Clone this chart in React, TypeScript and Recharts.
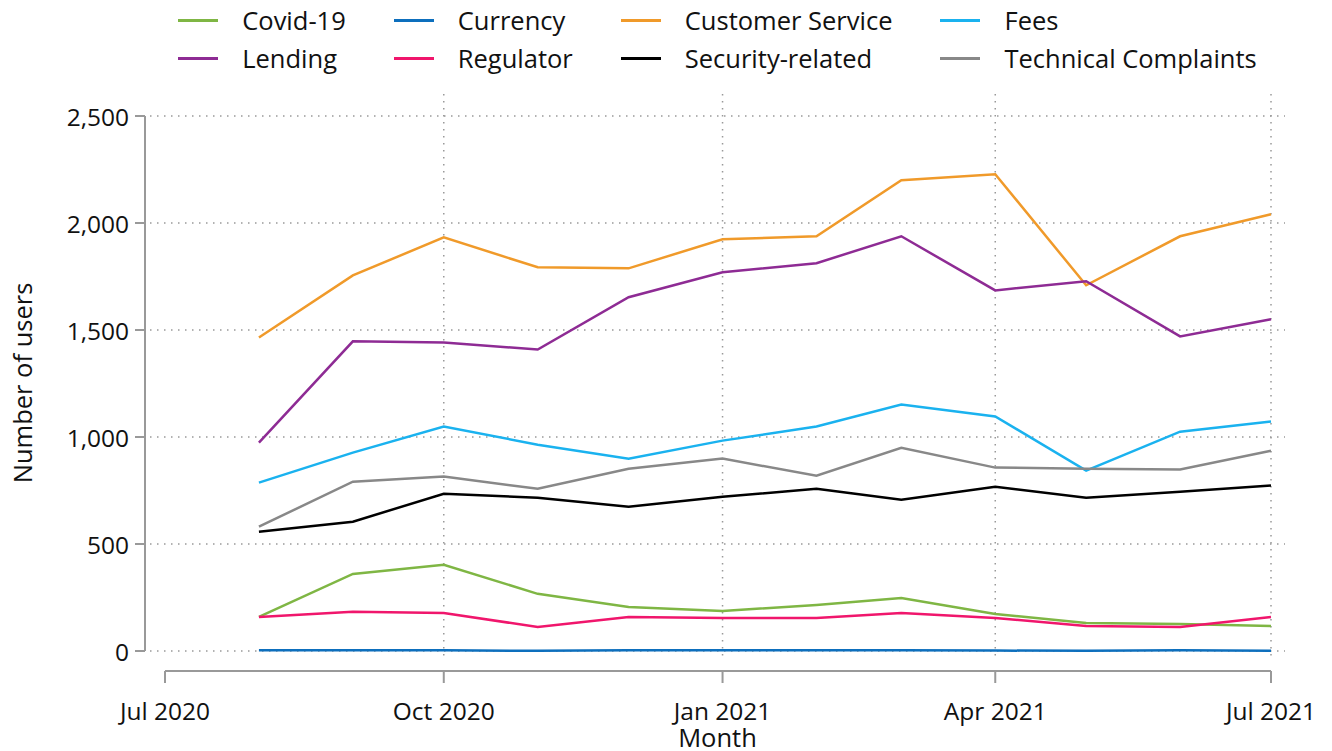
import { LineChart, Line, XAxis, YAxis, CartesianGrid, Legend } from 'recharts';

const months = ['2020-08', '2020-09', '2020-10', '2020-11', '2020-12', '2021-01', '2021-02', '2021-03', '2021-04', '2021-05', '2021-06', '2021-07'];

const covid = [159, 360, 403, 267, 206, 187, 215, 248, 173, 131, 126, 117];
const currency = [4, 4, 3, 1, 3, 3, 4, 4, 2, 1, 3, 1];
const customerService = [1465, 1755, 1933, 1793, 1788, 1924, 1938, 2200, 2228, 1709, 1938, 2041];
const fees = [787, 927, 1049, 964, 899, 983, 1049, 1152, 1096, 843, 1025, 1072];
const lending = [974, 1447, 1442, 1409, 1653, 1770, 1812, 1938, 1685, 1728, 1470, 1550];
const regulator = [159, 183, 178, 112, 159, 154, 154, 178, 154, 117, 112, 159];
const security = [557, 604, 735, 716, 674, 721, 758, 707, 768, 716, 744, 773];
const technical = [581, 791, 815, 758, 852, 899, 819, 950, 857, 852, 848, 936];

const xTickMonths = ['2020-07', '2020-10', '2021-01', '2021-04', '2021-07'];
const xTickLabels = ['Jul 2020', 'Oct 2020', 'Jan 2021', 'Apr 2021', 'Jul 2021'];
const yTicks = [0, 500, 1000, 1500, 2000, 2500];

const FONT = '"Open Sans", sans-serif';
const AXIS = '#999';

const toTs = (m: string) => Date.UTC(Number(m.slice(0, 4)), Number(m.slice(5)) - 1, 1);

const series = [
  { key: 'covid', name: 'Covid-19', color: '#7fb644', values: covid },
  { key: 'currency', name: 'Currency', color: '#0d6fbd', values: currency },
  { key: 'customer', name: 'Customer Service', color: '#f09a2a', values: customerService },
  { key: 'fees', name: 'Fees', color: '#1ab2ef', values: fees },
  { key: 'lending', name: 'Lending', color: '#8e2b94', values: lending },
  { key: 'regulator', name: 'Regulator', color: '#f0166c', values: regulator },
  { key: 'security', name: 'Security-related', color: '#000000', values: security },
  { key: 'technical', name: 'Technical Complaints', color: '#888888', values: technical },
];

const data = months.map((m, i) => {
  const row: Record<string, number> = { t: toTs(m) };
  series.forEach((s) => {
    row[s.key] = s.values[i];
  });
  return row;
});

const xTicks = xTickMonths.map(toTs);
const fmtY = (v: number) => v.toLocaleString('en-US');

// first tick positions, remembered while the ticks render so the axis line can be drawn
let firstY = 0;
let firstX = 0;

function YTick(props: any) {
  const { x, y, payload, index, visibleTicksCount } = props;
  if (index === 0) firstY = y;
  const last = index === visibleTicksCount - 1;
  return (
    <g>
      {last && <line x1={x - 5} x2={x - 5} y1={firstY} y2={y} stroke={AXIS} strokeWidth={2} />}
      <line x1={x - 15} x2={x - 5} y1={y} y2={y} stroke={AXIS} strokeWidth={2} />
      <text x={x - 21} y={y} textAnchor="end" dominantBaseline="central" fontFamily={FONT} fontSize={24.5} fill="#111">
        {fmtY(payload.value)}
      </text>
    </g>
  );
}

function XTick(props: any) {
  const { x, y, index, visibleTicksCount } = props;
  if (index === 0) firstX = x;
  const last = index === visibleTicksCount - 1;
  const ay = y + 11;
  return (
    <g>
      {last && <line x1={firstX} x2={x} y1={ay} y2={ay} stroke={AXIS} strokeWidth={2} />}
      <line x1={x} x2={x} y1={ay} y2={ay + 12} stroke={AXIS} strokeWidth={2} />
      <text x={x} y={y + 50} textAnchor="middle" dominantBaseline="central" fontFamily={FONT} fontSize={24.5} fill="#111">
        {xTickLabels[index]}
      </text>
    </g>
  );
}

function LegendGrid(props: any) {
  const items = (props.payload && props.payload.length ? props.payload : series.map((s) => ({ value: s.name, color: s.color })));
  return (
    <div style={{ width: 1332, height: 93, boxSizing: 'border-box', paddingLeft: 150, paddingRight: 47, display: 'flex', justifyContent: 'center' }}>
      <div style={{ display: 'grid', gridTemplateColumns: 'auto auto auto auto', columnGap: 48, gridAutoRows: '38px' }}>
        {items.map((it: any) => (
          <div key={it.value} style={{ display: 'flex', alignItems: 'center', fontFamily: FONT, fontSize: 25.5, color: '#111', whiteSpace: 'nowrap' }}>
            <span style={{ display: 'inline-block', width: 40, height: 3, background: it.color, marginRight: 24 }} />
            {it.value}
          </div>
        ))}
      </div>
    </div>
  );
}

export default function App() {
  return (
    <div style={{ position: 'absolute', left: 0, top: 0 }}>
      <LineChart width={1332} height={751} data={data} margin={{ top: 1, right: 47, bottom: 0, left: 0 }}>
        <CartesianGrid
          stroke={AXIS}
          strokeWidth={1.5}
          strokeDasharray="1.5 5.5"
          horizontalValues={yTicks}
          verticalValues={xTicks.slice(1)}
        />
        <XAxis
          dataKey="t"
          type="number"
          scale="time"
          domain={[xTicks[0], xTicks[xTicks.length - 1]]}
          ticks={xTicks}
          padding={{ left: 15, right: 14 }}
          height={91}
          axisLine={false}
          tickLine={false}
          tickSize={0}
          tickMargin={0}
          tick={<XTick />}
          interval={0}
          label={{
            content: (p: any) => (
              <text x={p.viewBox.x + p.viewBox.width / 2} y={p.viewBox.y + 77} textAnchor="middle" dominantBaseline="central" fontFamily={FONT} fontSize={25.5} fill="#111">
                Month
              </text>
            ),
          }}
        />
        <YAxis
          type="number"
          domain={[0, 2500]}
          ticks={yTicks}
          padding={{ top: 22, bottom: 9 }}
          width={150}
          axisLine={false}
          tickLine={false}
          tickSize={0}
          tickMargin={0}
          tick={<YTick />}
          interval={0}
          label={{
            content: (p: any) => {
              const cx = p.viewBox.x + 22;
              const cy = p.viewBox.y + p.viewBox.height / 2 + 6;
              return (
                <text x={cx} y={cy} transform={`rotate(-90 ${cx} ${cy})`} textAnchor="middle" dominantBaseline="central" fontFamily={FONT} fontSize={25.5} fill="#111">
                  Number of users
                </text>
              );
            },
          }}
        />
        <Legend verticalAlign="top" align="left" content={<LegendGrid />} wrapperStyle={{ left: 0, top: 1, width: 1332 }} />
        {series.map((s) => (
          <Line
            key={s.key}
            dataKey={s.key}
            name={s.name}
            stroke={s.color}
            strokeWidth={2.5}
            dot={false}
            activeDot={false}
            type="linear"
            isAnimationActive={false}
          />
        ))}
      </LineChart>
    </div>
  );
}
